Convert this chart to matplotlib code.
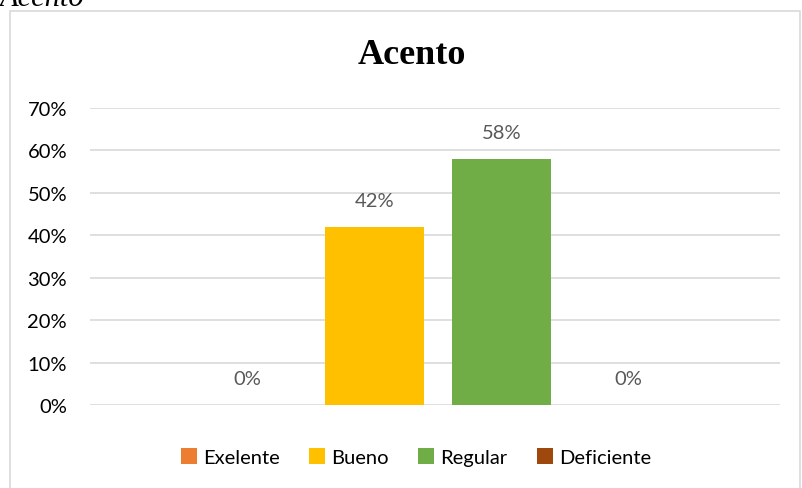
import matplotlib

matplotlib.use("Agg")
import matplotlib.pyplot as plt
from matplotlib.patches import Rectangle

categories = ["Exelente", "Bueno", "Regular", "Deficiente"]
values = [0, 42, 58, 0]
colors = ["#ED7D31", "#FFC000", "#70AD47", "#9E480E"]
yticks = [0, 10, 20, 30, 40, 50, 60, 70]

W, H = 803, 489
fig = plt.figure(figsize=(W / 100, H / 100), dpi=100)
ax = fig.add_axes([90 / W, 1 - 406 / H, 690 / W, 297 / H])

x = list(range(len(categories)))
bars = ax.bar(x, values, width=0.78, color=colors, label=categories, zorder=2)
for xi, v in zip(x, values):
    ax.text(xi, v + 4.2, f"{v}%", ha="center", va="bottom", fontsize=14.5,
            color="#595959", family="Lato")

ax.set_xlim(-1.24, 4.19)
ax.set_ylim(0, 70)
ax.set_yticks(yticks)
ax.set_yticklabels([f"{t}%" for t in yticks], fontsize=14.5, family="Lato", color="#000000")
ax.set_xticks([])
ax.tick_params(axis="y", length=0, pad=16.5)
ax.grid(axis="y", color="#D9D9D9", linewidth=1.2, zorder=0)
for s in ax.spines.values():
    s.set_visible(False)

fig.text(412 / W, 1 - 56 / H, "Acento", ha="center", va="center", fontsize=26,
         fontweight="bold", family="Liberation Serif")
fig.text(0.0, 1 - 6 / H, "Acento", ha="left", va="baseline", fontsize=22,
         style="italic", family="Liberation Serif")

fig.patches.append(Rectangle((10 / W, -0.05), 790 / W, 1.05 - 12 / H, transform=fig.transFigure,
                             fill=False, edgecolor="#D9D9D9", linewidth=1.2))

leg = fig.legend(handles=bars, labels=categories, loc="center", bbox_to_anchor=(416 / W, 1 - 458 / H),
                 ncol=4, frameon=False, prop={"family": "Lato", "size": 14.5},
                 handlelength=0.8, handleheight=0.8, handletextpad=0.3, columnspacing=1.45)

fig.savefig("out.png", dpi=100)
